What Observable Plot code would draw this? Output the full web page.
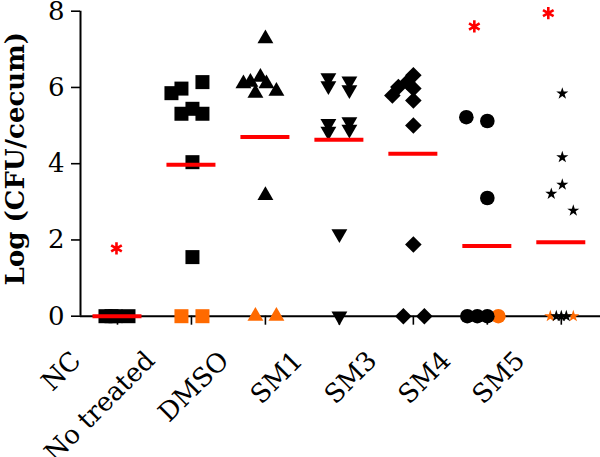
<!DOCTYPE html>
<html>
<head>
<meta charset="utf-8">
<script src="https://cdn.jsdelivr.net/npm/d3@7"></script>
<script src="https://cdn.jsdelivr.net/npm/@observablehq/plot@0.6"></script>
<style>
  html, body { margin: 0; padding: 0; background: #fff; }
  #chart svg { display: block; }
</style>
</head>
<body>
<div id="chart"></div>
<script>
// ---- data (Log CFU / cecum) ----
const categories = ["NC", "No treated", "DMSO", "SM1", "SM3", "SM4", "SM5"];
const yTicks = [0, 2, 4, 6, 8];

// horizontal scatter of each point around its group centre, in pixels
const ncValues = [0, 0, 0, 0];
const ncJitter = [-12, -6, -2, 11];

const untreatedValues = [5.85, 5.97, 6.14, 5.31, 5.44, 5.31, 4.04, 1.55];
const untreatedJitter = [-20, -10, 11, -10, 1, 11, 1, 1];
const untreatedOrange = [0, 0];
const untreatedOrangeJitter = [-10, 11];

const dmsoValues = [7.28, 6.10, 6.14, 6.27, 6.10, 5.85, 5.90, 3.17];
const dmsoJitter = [0, -22, -15, -5, 1, -10, 11, 0];
const dmsoOrange = [0, 0];
const dmsoOrangeJitter = [-10, 11];

const sm1Values = [6.25, 6.04, 6.17, 5.94, 5.05, 4.85, 5.10, 4.90, 2.16, 0];
const sm1Jitter = [-11, -11, 10, 10, -11, -11, 10, 10, 0, 0];

const sm3Values = [6.32, 6.14, 6.01, 5.79, 5.97, 5.66, 5.00, 1.88, 0, 0];
const sm3Jitter = [0, -6, -15, -21, 0, 0, 0, 0, -10, 11];

const sm4Values = [5.22, 5.12, 3.10, 0, 0, 0];
const sm4Jitter = [-21, 0, 0, -20, -10, 0];
const sm4Orange = [0];
const sm4OrangeJitter = [11];

const sm5Values = [5.84, 4.17, 3.45, 3.21, 2.77, 0, 0, 0];
const sm5Jitter = [1, 1, 1, -10, 12, -5, 0, 5];
const sm5Orange = [0, 0];
const sm5OrangeJitter = [-11, 12];

const means = [0, 3.97, 4.70, 4.63, 4.26, 1.84, 1.94];

const sigGroups = [0, 5, 6];
const sigValues = [1.78, 7.60, 7.95];
const sigJitter = [-1, -13, -13];

// ---- layout ----
const W = 600, H = 457;
const mL = 80, mR = 0, mT = 10.7, mB = H - 315.7;
const xDomain = [-0.5, 6.53];
const pxPerUnit = (W - mL - mR) / (xDomain[1] - xDomain[0]);
const BLACK = "#000", ORANGE = "#ff6a00", RED = "#ff0000";

const rows = (g, vals, jit, color) => vals.map((v, i) => ({g, v, x: g + jit[i] / pxPerUnit, color}));

const ncRows = rows(0, ncValues, ncJitter, BLACK);
const untreatedRows = [...rows(1, untreatedOrange, untreatedOrangeJitter, ORANGE), ...rows(1, untreatedValues, untreatedJitter, BLACK)];
const dmsoRows = [...rows(2, dmsoOrange, dmsoOrangeJitter, ORANGE), ...rows(2, dmsoValues, dmsoJitter, BLACK)];
const sm1Rows = rows(3, sm1Values, sm1Jitter, BLACK);
const sm3Rows = rows(4, sm3Values, sm3Jitter, BLACK);
const sm4Rows = [...rows(5, sm4Orange, sm4OrangeJitter, ORANGE), ...rows(5, sm4Values, sm4Jitter, BLACK)];
const sm5Rows = [...rows(6, sm5Orange, sm5OrangeJitter, ORANGE), ...rows(6, sm5Values, sm5Jitter, BLACK)];
const meanRows = means.map((m, i) => ({g: i, m}));
const sigRows = sigGroups.map((g, i) => ({x: g + sigJitter[i] / pxPerUnit, v: sigValues[i]}));

const halfBar = 24.5 / pxPerUnit;
const xIdx = d3.range(categories.length);

const chart = Plot.plot({
  width: W,
  height: H,
  marginLeft: mL,
  marginRight: mR,
  marginTop: mT,
  marginBottom: mB,
  style: {fontFamily: "'DejaVu Serif', serif", color: "#000", background: "#fff", overflow: "visible"},
  x: {domain: xDomain, axis: null},
  y: {domain: [0, 8], axis: null},
  marks: [
    Plot.axisY({ticks: yTicks, tickSize: 9, tickPadding: 7, fontSize: 26, strokeWidth: 1.6, label: null}),
    // x tick marks (no text)
    Plot.axisX({ticks: xIdx, tickFormat: () => "", tickSize: 9, strokeWidth: 1.6, label: null}),
    // x tick labels, rotated
    Plot.axisX({ticks: xIdx, tickFormat: i => categories[i], tickRotate: -45,
                tickSize: 0, tickPadding: 12, fontSize: 26, label: null, dx: -41, dy: 28}),
    Plot.ruleX([xDomain[0]], {stroke: BLACK, strokeWidth: 2}),
    Plot.ruleY([0], {stroke: BLACK, strokeWidth: 2}),
    Plot.text(["Log (CFU/cecum)"], {frameAnchor: "left", textAnchor: "middle", rotate: -90, dx: -65, dy: -5,
                                   fontSize: 26, fontWeight: "bold"}),
    // points
    Plot.dot(ncRows, {x: "x", y: "v", fill: "color", symbol: "square", r: 7.9}),
    Plot.dot(untreatedRows, {x: "x", y: "v", fill: "color", symbol: "square", r: 7.9}),
    Plot.dot(dmsoRows, {x: "x", y: "v", fill: "color", symbol: "triangle", r: 5.9}),
    Plot.dot(sm1Rows, {x: "x", y: "v", fill: "color", symbol: "triangle", rotate: 180, r: 5.9}),
    Plot.dot(sm3Rows, {x: "x", y: "v", fill: "color", symbol: "square", rotate: 45, r: 6.6}),
    Plot.dot(sm4Rows, {x: "x", y: "v", fill: "color", symbol: "circle", r: 7.3}),
    Plot.dot(sm5Rows, {x: "x", y: "v", fill: "color", symbol: "star", r: 3.8}),
    // means
    Plot.ruleY(meanRows, {y: "m", x1: d => d.g - halfBar, x2: d => d.g + halfBar, stroke: RED, strokeWidth: 4}),
    // significance asterisks
    Plot.dot(sigRows, {x: "x", y: "v", symbol: "asterisk", stroke: RED, strokeWidth: 2.6, r: 5.8})
  ]
});
document.getElementById("chart").appendChild(chart);
</script>
</body>
</html>
